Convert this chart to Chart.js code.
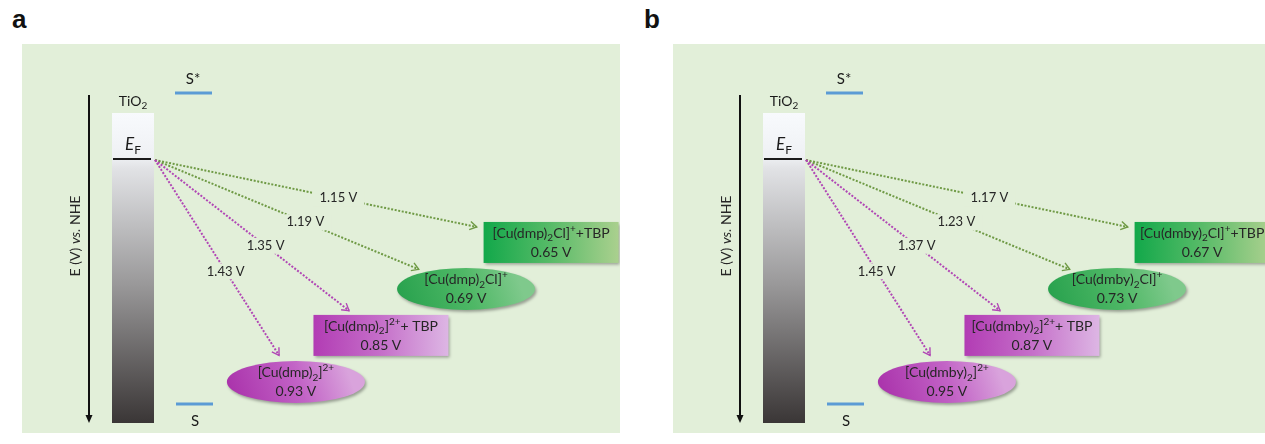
<!DOCTYPE html>
<html>
<head>
<meta charset="utf-8">
<script src="https://cdn.jsdelivr.net/npm/chart.js@4.4.1/dist/chart.umd.min.js"></script>
<style>
  body { margin: 0; width: 1265px; height: 444px; position: relative; overflow: hidden; background: #fff; }
  .tag { position: absolute; top: 4px; font: bold 26px "Liberation Sans", Arial, sans-serif; color: #111; }
  .panel { position: absolute; top: 44px; width: 598px; height: 389px; }
</style>
</head>
<body>
<div class="tag" style="left:12px">a</div>
<div class="tag" style="left:644px">b</div>
<div class="panel" style="left:22px"><canvas id="panelA" width="598" height="389"></canvas></div>
<div class="panel" style="left:673px"><canvas id="panelB" width="598" height="389"></canvas></div>

<script>
// Cu(I)/Cu(II) mediator levels (V vs NHE) and driving force from the TiO2 Fermi level
const speciesA = ['[Cu(dmp)_2Cl]^++TBP', '[Cu(dmp)_2Cl]^+', '[Cu(dmp)_2]^{2+}+ TBP', '[Cu(dmp)_2]^{2+}'];
const potentialsA = [0.65, 0.69, 0.85, 0.93];
const drivingForceA = [1.15, 1.19, 1.35, 1.43];

const speciesB = ['[Cu(dmby)_2Cl]^++TBP', '[Cu(dmby)_2Cl]^+', '[Cu(dmby)_2]^{2+}+ TBP', '[Cu(dmby)_2]^{2+}'];
const potentialsB = [0.67, 0.73, 0.87, 0.95];
const drivingForceB = [1.17, 1.23, 1.37, 1.45];

const FONT = 'Lato, "Open Sans", sans-serif';
const BG = '#e2efd9';
const LEVEL_BLUE = '#5b9bd5';
const GREEN_ARROW = '#6f9a45';
const PURPLE_ARROW = '#b147b5';
const INK = '#262626';

// fixed pieces of the schematic, in panel pixels
const band = { left: 90, right: 132, top: 69, bottom: 379, fermi: 115 };
const axisX = 67;
const boxSize = { w: 135, h: 41 };
const ellSize = { rx: 69, ry: 21 };

// '_' = subscript, '^' = superscript, braces group several characters
function parseRich(str) {
  const parts = [];
  let buf = '', i = 0;
  while (i < str.length) {
    const ch = str[i];
    if (ch === '_' || ch === '^') {
      if (buf) { parts.push({ t: buf, m: 0 }); buf = ''; }
      let seg;
      if (str[i + 1] === '{') {
        const end = str.indexOf('}', i);
        seg = str.slice(i + 2, end);
        i = end + 1;
      } else {
        seg = str[i + 1];
        i += 2;
      }
      parts.push({ t: seg, m: ch === '_' ? -1 : 1 });
    } else {
      buf += ch;
      i++;
    }
  }
  if (buf) parts.push({ t: buf, m: 0 });
  return parts;
}

function drawRich(ctx, str, cx, cy, size, style) {
  const parts = parseRich(str);
  const small = Math.round(size * 0.68);
  const fontFor = m => `${m ? '' : (style || '')} ${m ? small : size}px ${FONT}`;
  let w = 0;
  parts.forEach(p => { ctx.font = fontFor(p.m); p.w = ctx.measureText(p.t).width; w += p.w; });
  let x = cx - w / 2;
  ctx.textAlign = 'left';
  ctx.textBaseline = 'middle';
  parts.forEach(p => {
    ctx.font = fontFor(p.m);
    const dy = p.m === -1 ? size * 0.32 : p.m === 1 ? -size * 0.36 : 0;
    ctx.fillText(p.t, x, cy + dy);
    x += p.w;
  });
}

function dottedArrow(ctx, x0, y0, x1, y1, color) {
  ctx.strokeStyle = color;
  ctx.lineWidth = 2;
  ctx.setLineDash([2, 1.6]);
  ctx.beginPath();
  ctx.moveTo(x0, y0);
  ctx.lineTo(x1, y1);
  ctx.stroke();
  ctx.setLineDash([]);
  const ang = Math.atan2(y1 - y0, x1 - x0);
  ctx.lineWidth = 1.4;
  ctx.beginPath();
  ctx.moveTo(x1 - 8 * Math.cos(ang - 0.55), y1 - 8 * Math.sin(ang - 0.55));
  ctx.lineTo(x1, y1);
  ctx.lineTo(x1 - 8 * Math.cos(ang + 0.55), y1 - 8 * Math.sin(ang + 0.55));
  ctx.stroke();
}

// distance along the ray origin->centre where it meets the shape outline
function hitParam(ox, oy, cx, cy, isBox) {
  const dx = cx - ox, dy = cy - oy;
  if (isBox) {
    const tx = (cx - boxSize.w / 2 - ox) / dx;
    const ty = (cy - boxSize.h / 2 - oy) / dy;
    return Math.max(tx, ty);
  }
  const ux = ox - cx, uy = oy - cy;
  const rx2 = ellSize.rx * ellSize.rx, ry2 = ellSize.ry * ellSize.ry;
  const a = dx * dx / rx2 + dy * dy / ry2;
  const b = 2 * (ux * dx / rx2 + uy * dy / ry2);
  const c = ux * ux / rx2 + uy * uy / ry2 - 1;
  return (-b - Math.sqrt(b * b - 4 * a * c)) / (2 * a);
}

const energyDiagram = {
  id: 'energyDiagram',
  beforeDraw(chart) {
    const { ctx, chartArea: area } = chart;
    ctx.save();
    ctx.fillStyle = BG;
    ctx.fillRect(area.left, area.top, area.width, area.height);

    // energy axis, pointing down
    ctx.strokeStyle = '#111';
    ctx.fillStyle = '#111';
    ctx.lineWidth = 2;
    ctx.beginPath();
    ctx.moveTo(axisX, 51);
    ctx.lineTo(axisX, 372);
    ctx.stroke();
    ctx.beginPath();
    ctx.moveTo(axisX - 3.5, 371);
    ctx.lineTo(axisX + 3.5, 371);
    ctx.lineTo(axisX, 379);
    ctx.closePath();
    ctx.fill();

    ctx.save();
    ctx.translate(53, 192);
    ctx.rotate(-Math.PI / 2);
    ctx.fillStyle = INK;
    ctx.textBaseline = 'middle';
    const pieces = [['E (V) ', ''], ['vs.', 'italic'], [' NHE', '']];
    let total = 0;
    pieces.forEach(p => { ctx.font = `${p[1]} 14px ${FONT}`; total += ctx.measureText(p[0]).width; });
    let x = -total / 2;
    pieces.forEach(p => {
      ctx.font = `${p[1]} 14px ${FONT}`;
      ctx.fillText(p[0], x, 0);
      x += ctx.measureText(p[0]).width;
    });
    ctx.restore();

    // TiO2 conduction band
    const g = ctx.createLinearGradient(0, band.top, 0, band.bottom);
    g.addColorStop(0, '#f8fafd');
    g.addColorStop(0.14, '#eff1f4');
    g.addColorStop(0.18, '#e1e2e5');
    g.addColorStop(0.55, '#9a999a');
    g.addColorStop(1, '#3a3636');
    ctx.fillStyle = g;
    ctx.fillRect(band.left, band.top, band.right - band.left, band.bottom - band.top);

    ctx.strokeStyle = '#1a1a1a';
    ctx.lineWidth = 2;
    ctx.beginPath();
    ctx.moveTo(band.left + 1, band.fermi);
    ctx.lineTo(band.right - 3, band.fermi);
    ctx.stroke();

    ctx.fillStyle = '#1a1a1a';
    drawRich(ctx, 'E_F', (band.left + band.right) / 2, band.fermi - 14, 17, 'italic');
    drawRich(ctx, 'TiO_2', (band.left + band.right) / 2, 57, 14);

    // dye excited and ground states
    ctx.strokeStyle = LEVEL_BLUE;
    ctx.lineWidth = 3;
    ctx.beginPath();
    ctx.moveTo(153, 49); ctx.lineTo(190, 49);
    ctx.moveTo(154, 360); ctx.lineTo(191, 360);
    ctx.stroke();
    ctx.fillStyle = '#1a1a1a';
    drawRich(ctx, 'S*', 171, 35, 15);
    drawRich(ctx, 'S', 173, 377, 15);
    ctx.restore();
  },

  afterDatasetsDraw(chart, args, opts) {
    const { ctx } = chart;
    const points = chart.getDatasetMeta(0).data;
    const ox = band.right + 1, oy = band.fermi + 1;
    ctx.save();

    const info = points.map((pt, i) => {
      const label = opts.species[i];
      const isBox = label.includes('TBP');
      const copperOne = label.includes('Cl');
      const t = hitParam(ox, oy, pt.x, pt.y, isBox);
      const dx = pt.x - ox, dy = pt.y - oy;
      const tEnd = t - 7 / Math.hypot(dx, dy);
      return { pt, label, isBox, copperOne, ex: ox + dx * tEnd, ey: oy + dy * tEnd };
    });

    // driving-force arrows with their values
    info.forEach(s => {
      dottedArrow(ctx, ox, oy, s.ex, s.ey, s.copperOne ? GREEN_ARROW : PURPLE_ARROW);
    });
    info.forEach((s, i) => {
      const lx = ox + (s.ex - ox) * 0.57, ly = oy + (s.ey - oy) * 0.57;
      const txt = opts.drivingForce[i].toFixed(2) + ' V';
      ctx.font = `13px ${FONT}`;
      const w = ctx.measureText(txt).width;
      ctx.fillStyle = BG;
      ctx.fillRect(lx - w / 2 - 7, ly - 8, w + 14, 16);
      ctx.fillStyle = INK;
      ctx.textAlign = 'center';
      ctx.textBaseline = 'middle';
      ctx.fillText(txt, lx, ly);
    });

    // mediator species
    info.forEach((s, i) => {
      const { x, y } = s.pt;
      ctx.save();
      ctx.shadowColor = 'rgba(40,40,40,0.4)';
      ctx.shadowBlur = 3;
      ctx.shadowOffsetX = 1.5;
      ctx.shadowOffsetY = 2;
      let g;
      if (s.isBox) {
        const l = x - boxSize.w / 2, t = y - boxSize.h / 2;
        g = ctx.createLinearGradient(l, 0, l + boxSize.w, 0);
        if (s.copperOne) {
          g.addColorStop(0, '#12a84a'); g.addColorStop(0.5, '#58bb68'); g.addColorStop(1, '#aad08e');
        } else {
          g.addColorStop(0, '#b23cb4'); g.addColorStop(0.5, '#c56fc9'); g.addColorStop(1, '#ddb6e4');
        }
        ctx.fillStyle = g;
        ctx.fillRect(l, t, boxSize.w, boxSize.h);
      } else {
        g = ctx.createLinearGradient(x - ellSize.rx, y + ellSize.ry, x + ellSize.rx * 0.7, y - ellSize.ry);
        if (s.copperOne) {
          g.addColorStop(0, '#25a04c'); g.addColorStop(0.6, '#4fb866'); g.addColorStop(1, '#7fc98c');
        } else {
          g.addColorStop(0, '#a82fa9'); g.addColorStop(0.6, '#c263c6'); g.addColorStop(1, '#d9a3dc');
        }
        ctx.fillStyle = g;
        ctx.beginPath();
        ctx.ellipse(x, y, ellSize.rx, ellSize.ry, 0, 0, Math.PI * 2);
        ctx.fill();
      }
      ctx.restore();

      ctx.fillStyle = INK;
      drawRich(ctx, s.label, x, y - 9, 14);
      drawRich(ctx, opts.potentials[i].toFixed(2) + ' V', x, y + 10, 14);
    });
    ctx.restore();
  }
};

function buildPanel(canvasId, species, potentials, drivingForce) {
  // species sit on the diagram in order of their redox potential
  const rank = potentials.map(p => potentials.filter(q => q < p).length);
  return new Chart(document.getElementById(canvasId), {
    type: 'scatter',
    data: {
      datasets: [{
        data: rank.map(r => ({ x: r, y: r })),
        pointRadius: 0
      }]
    },
    options: {
      responsive: false,
      animation: false,
      layout: { padding: 0 },
      scales: {
        x: { type: 'linear', display: false, reverse: true, min: -0.81, max: 6.22 },
        y: { type: 'linear', display: false, reverse: true, min: -4.27, max: 4.10 }
      },
      plugins: {
        legend: { display: false },
        tooltip: { enabled: false },
        energyDiagram: { species, potentials, drivingForce }
      }
    },
    plugins: [energyDiagram]
  });
}

buildPanel('panelA', speciesA, potentialsA, drivingForceA);
buildPanel('panelB', speciesB, potentialsB, drivingForceB);
</script>
</body>
</html>
